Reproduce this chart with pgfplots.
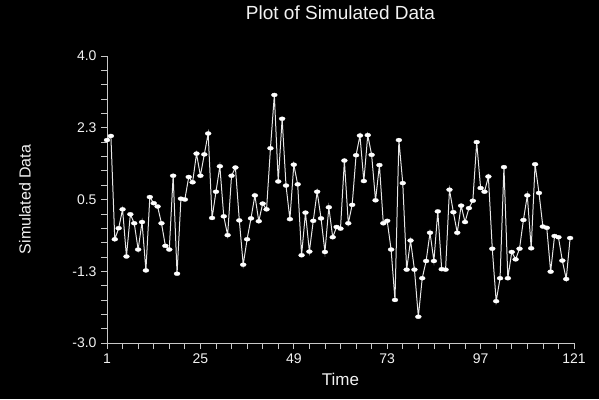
\documentclass[border=0pt]{standalone}
\usepackage{pgfplots}
\pgfplotsset{compat=1.18}
\usepackage{fontspec}
\setmainfont{Liberation Sans}
\definecolor{axgray}{HTML}{C8C8C8}
\definecolor{txt}{HTML}{F2F2F2}
\definecolor{ln}{HTML}{E6E6E6}
\begin{document}
\begin{tikzpicture}
\fill[black] (-107pt,-56pt) rectangle (492pt,343pt);
\path[use as bounding box] (-107pt,-56pt) rectangle (492pt,343pt);
\begin{axis}[
  at={(0pt,0pt)}, anchor=south west,
  scale only axis, width=467pt, height=287pt,
  xmin=1, xmax=121, ymin=-3, ymax=4,
  enlargelimits=false,
  axis x line=bottom, axis y line=left,
  x axis line style={-, axgray, line width=0.8pt},
  y axis line style={-, axgray, line width=0.8pt},
  tick align=outside,
  major tick length=6pt, minor tick length=6pt,
  every tick/.style={axgray, line width=0.7pt},
  xtick={1,25,49,73,97,121},
  xticklabels={1,25,49,73,97,121},
  minor x tick num=5,
  ytick={-3,-1.25,0.5,2.25,4},
  yticklabels={-3.0,-1.3,0.5,2.3,4.0},
  minor y tick num=4,
  tick label style={txt, font=\fontsize{14}{16}\selectfont},
  xticklabel style={yshift=-1pt},
  yticklabel style={xshift=-1pt},
  title={Plot of Simulated Data},
  title style={at={(0.5,1)}, anchor=center, yshift=37pt, txt, font=\fontsize{19}{22}\selectfont},
  xlabel={Time},
  xlabel style={at={(0.5,0)}, anchor=center, yshift=-36.5pt, txt, font=\fontsize{17}{20}\selectfont},
  ylabel={Simulated Data},
  ylabel style={at={(0,0.5)}, anchor=center, yshift=82pt, txt, font=\fontsize{16}{18}\selectfont},
  clip=false,
]
\addplot[ln, line width=1pt, mark=*, mark size=2pt,
  mark options={fill=white, draw=white, xscale=1.5, line width=0.3pt}]
  table {
x y
1 1.95
2 2.05
3 -0.47
4 -0.20
5 0.26
6 -0.89
7 0.14
8 -0.08
9 -0.72
10 -0.05
11 -1.23
12 0.56
13 0.41
14 0.33
15 -0.08
16 -0.63
17 -0.72
18 1.08
19 -1.31
20 0.52
21 0.50
22 1.05
23 0.92
24 1.62
25 1.08
26 1.60
27 2.11
28 0.05
29 0.69
30 1.31
31 0.09
32 -0.37
33 1.08
34 1.28
35 -0.01
36 -1.09
37 -0.47
38 0.04
39 0.60
40 -0.03
41 0.40
42 0.26
43 1.75
44 3.05
45 0.94
46 2.47
47 0.84
48 0.02
49 1.35
50 0.87
51 -0.86
52 0.18
53 -0.77
54 -0.02
55 0.69
56 0.04
57 -0.78
58 0.31
59 -0.42
60 -0.17
61 -0.21
62 1.45
63 -0.08
64 0.37
65 1.58
66 2.06
67 0.95
68 2.07
69 1.59
70 0.48
71 1.34
72 -0.08
73 -0.02
74 -0.72
75 -1.95
76 1.95
77 0.90
78 -1.21
79 -0.50
80 -1.21
81 -2.36
82 -1.42
83 -1.00
84 -0.31
85 -1.00
86 0.21
87 -1.20
88 -1.21
89 0.74
90 0.19
91 -0.31
92 0.35
93 -0.05
94 0.29
95 0.47
96 1.90
97 0.78
98 0.69
99 1.06
100 -0.70
101 -1.98
102 -1.42
103 1.29
104 -1.42
105 -0.78
106 -0.96
107 -0.70
108 0.00
109 0.60
110 -0.69
111 1.36
112 0.66
113 -0.16
114 -0.19
115 -1.26
116 -0.39
117 -0.42
118 -0.99
119 -1.44
120 -0.44
};
\end{axis}
\end{tikzpicture}
\end{document}
